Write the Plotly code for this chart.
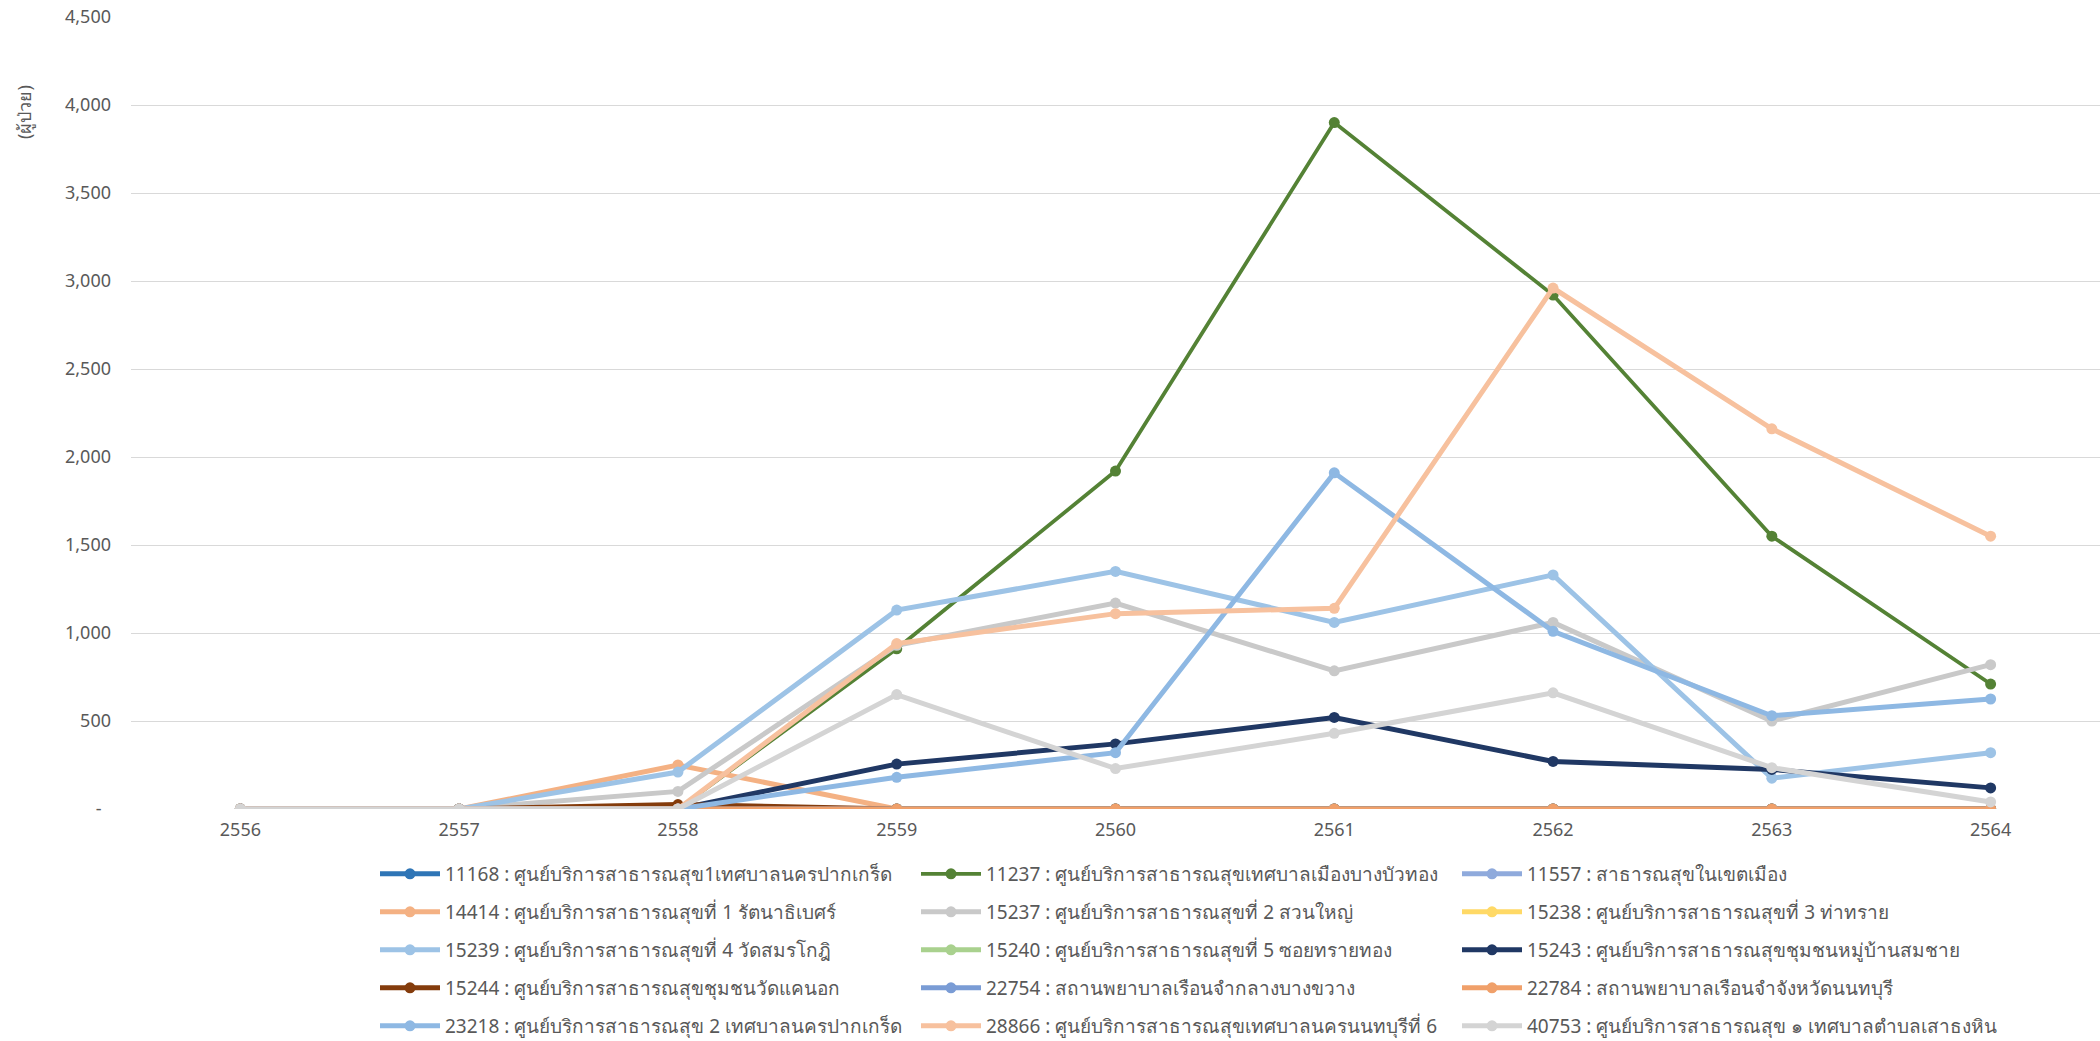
import plotly.graph_objects as go

years = ["2556", "2557", "2558", "2559", "2560", "2561", "2562", "2563", "2564"]

names = [
    "11168 : ศูนย์บริการสาธารณสุข1เทศบาลนครปากเกร็ด",
    "11237 : ศูนย์บริการสาธารณสุขเทศบาลเมืองบางบัวทอง",
    "11557 : สาธารณสุขในเขตเมือง",
    "14414 : ศูนย์บริการสาธารณสุขที่ 1 รัตนาธิเบศร์",
    "15237 : ศูนย์บริการสาธารณสุขที่ 2 สวนใหญ่",
    "15238 : ศูนย์บริการสาธารณสุขที่ 3 ท่าทราย",
    "15239 : ศูนย์บริการสาธารณสุขที่ 4 วัดสมรโกฎิ",
    "15240 : ศูนย์บริการสาธารณสุขที่ 5 ซอยทรายทอง",
    "15243 : ศูนย์บริการสาธารณสุขชุมชนหมู่บ้านสมชาย",
    "15244 : ศูนย์บริการสาธารณสุขชุมชนวัดแคนอก",
    "22754 : สถานพยาบาลเรือนจำกลางบางขวาง",
    "22784 : สถานพยาบาลเรือนจำจังหวัดนนทบุรี",
    "23218 : ศูนย์บริการสาธารณสุข 2 เทศบาลนครปากเกร็ด",
    "28866 : ศูนย์บริการสาธารณสุขเทศบาลนครนนทบุรีที่ 6",
    "40753 : ศูนย์บริการสาธารณสุข ๑ เทศบาลตำบลเสาธงหิน",
]

v11168 = [0, 0, 0, 0, 0, 0, 0, 0, 0]
v11237 = [0, 0, 0, 910, 1920, 3900, 2920, 1550, 710]
v11557 = [0, 0, 0, 0, 0, 0, 0, 0, 0]
v14414 = [0, 0, 250, 0, 0, 0, 0, 0, 0]
v15237 = [0, 0, 100, 930, 1170, 785, 1060, 500, 820]
v15238 = [0, 0, 0, 0, 0, 0, 0, 0, 0]
v15239 = [0, 0, 210, 1130, 1350, 1060, 1330, 175, 320]
v15240 = [0, 0, 0, 0, 0, 0, 0, 0, 0]
v15243 = [0, 0, 0, 255, 370, 520, 270, 225, 120]
v15244 = [0, 0, 25, 0, 0, 0, 0, 0, 0]
v22754 = [0, 0, 0, 0, 0, 0, 0, 0, 0]
v22784 = [0, 0, 0, 0, 0, 0, 0, 0, 0]
v23218 = [0, 0, 0, 180, 320, 1910, 1010, 530, 625]
v28866 = [0, 0, 0, 940, 1110, 1140, 2960, 2160, 1550]
v40753 = [0, 0, 0, 650, 230, 430, 660, 235, 40]

series = [v11168, v11237, v11557, v14414, v15237, v15238, v15239, v15240,
          v15243, v15244, v22754, v22784, v23218, v28866, v40753]

colors = ["#2E75B6", "#548235", "#8FAADC", "#F4B183", "#C9C9C9", "#FFD966",
          "#9DC3E6", "#A9D18E", "#203864", "#843C0C", "#7A9CD5", "#F0A06A",
          "#8EB8E3", "#F7C19E", "#D4D4D4"]
widths = [5, 3.8, 5, 5, 5, 5, 5, 5, 5, 5, 5, 5, 5, 5, 5]

y_ticks = [0, 500, 1000, 1500, 2000, 2500, 3000, 3500, 4000, 4500]
y_ticktext = ["-\u00a0\u00a0", "500", "1,000", "1,500", "2,000", "2,500",
              "3,000", "3,500", "4,000", "4,500"]
y_title = "(ผู้ป่วย)"

W, H = 2100, 1041
ML, MR, MT, MB = 131, 0, 17, 232
PW = W - ML - MR
PH = H - MT - MB

FONT = "Noto Sans, sans-serif"
GREY = "#595959"

fig = go.Figure()
legend_ids = ["legend", "legend2", "legend3", "legend4", "legend5"]
for i, (nm, vals, col, lw) in enumerate(zip(names, series, colors, widths)):
    fig.add_trace(go.Scatter(
        x=years, y=vals, name=nm, mode="lines+markers",
        line=dict(color=col, width=lw),
        marker=dict(color=col, size=11),
        legend=legend_ids[i // 3],
    ))

row_px = [874, 912, 950, 988, 1026]
leg_x = (375 - ML) / PW
legend_common = dict(
    orientation="h", entrywidth=466, entrywidthmode="pixels",
    x=leg_x, xanchor="left", yanchor="middle",
    font=dict(family=FONT, size=19, color=GREY),
    bgcolor="rgba(0,0,0,0)", borderwidth=0, itemwidth=60,
)
legend_layout = {}
for k, lid in enumerate(legend_ids):
    d = dict(legend_common)
    d["y"] = (MT + PH - row_px[k]) / PH
    legend_layout[lid] = d

fig.update_layout(
    width=W, height=H,
    margin=dict(l=ML, r=MR, t=MT, b=MB, pad=0, autoexpand=False),
    paper_bgcolor="white", plot_bgcolor="white",
    font=dict(family=FONT, size=18, color=GREY),
    xaxis=dict(type="category", showgrid=False, showline=False, zeroline=False,
               ticks="", ticklabelstandoff=8,
               tickfont=dict(family=FONT, size=18, color=GREY),
               range=[-0.5, 8.5]),
    yaxis=dict(range=[0, 4500], tickvals=y_ticks, ticktext=y_ticktext,
               showgrid=True, gridcolor="#D9D9D9", gridwidth=1.3,
               zeroline=False, showline=False, ticks="",
               ticklabelstandoff=19,
               tickfont=dict(family=FONT, size=18, color=GREY)),
    showlegend=True,
    annotations=[dict(
        text=y_title, textangle=-90, showarrow=False,
        xref="paper", yref="paper",
        x=(24 - ML) / PW, y=(MT + PH - 112) / PH,
        xanchor="center", yanchor="middle",
        font=dict(family=FONT, size=18, color=GREY),
    )],
    **legend_layout,
)

fig.write_html(
    "out.html",
    config={"displayModeBar": False},
    post_script="document.body.style.margin='0';document.body.style.overflow='hidden';",
)
